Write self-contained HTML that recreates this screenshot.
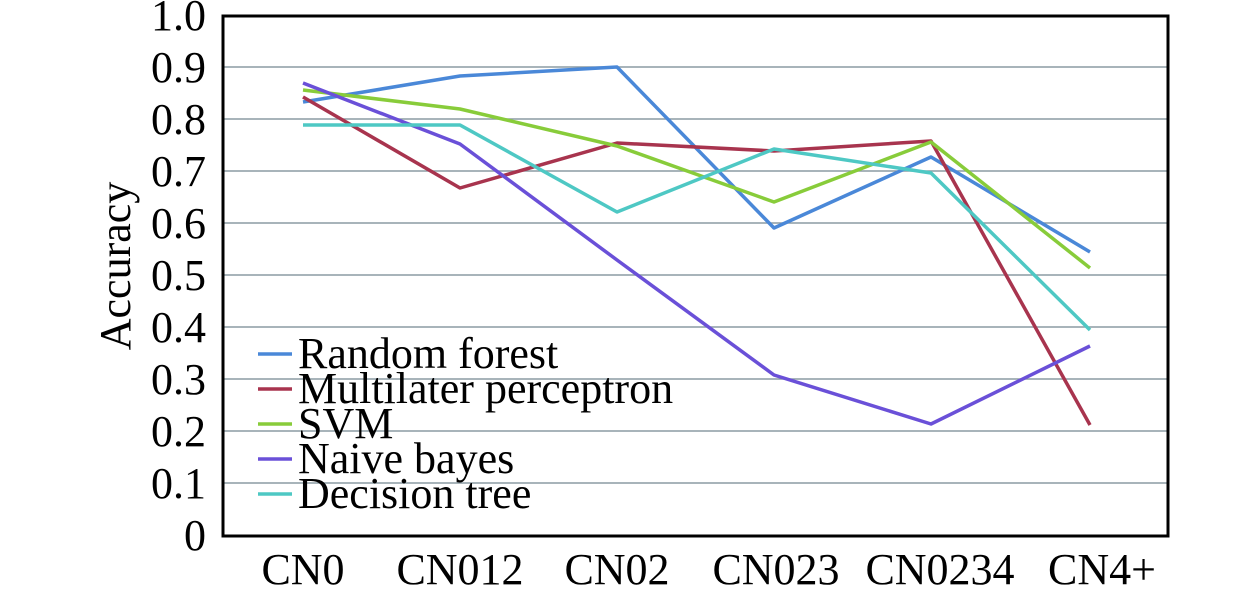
<!DOCTYPE html><html><head><style>body{margin:0;background:#fff}</style></head><body>
<svg width="1260" height="587" xmlns="http://www.w3.org/2000/svg" font-family="Liberation Serif, serif">
<rect width="1260" height="587" fill="#fff"/>
<g stroke="#8c9ca4" stroke-width="1.5">
<line x1="223" x2="1168" y1="67" y2="67"/><line x1="223" x2="1168" y1="119" y2="119"/><line x1="223" x2="1168" y1="171" y2="171"/><line x1="223" x2="1168" y1="223" y2="223"/><line x1="223" x2="1168" y1="275" y2="275"/><line x1="223" x2="1168" y1="327" y2="327"/><line x1="223" x2="1168" y1="379" y2="379"/><line x1="223" x2="1168" y1="431" y2="431"/><line x1="223" x2="1168" y1="483" y2="483"/>
</g>
<g fill="none" stroke-width="3.5" stroke-linejoin="round">
<polyline stroke="#4a88d8" points="303,102 460,76 617,67 774,228 931,157 1090,252"/>
<polyline stroke="#a8344e" points="303,97 460,188 617,143 774,151 931,141 1090,425"/>
<polyline stroke="#88cc3a" points="303,90 460,109 617,146 774,202 931,142 1090,268"/>
<polyline stroke="#6a50d8" points="303,83 460,144 617,260 774,375 931,424 1090,346"/>
<polyline stroke="#4ec8c4" points="303,125 460,125 617,212 774,149 931,173 1090,330"/>
</g>
<rect x="223" y="16" width="945" height="520" fill="none" stroke="#000" stroke-width="3"/>
<g font-size="44" text-anchor="end">
<text x="206" y="30">1.0</text><text x="206" y="82">0.9</text><text x="206" y="134">0.8</text><text x="206" y="186">0.7</text><text x="206" y="238">0.6</text><text x="206" y="290">0.5</text><text x="206" y="342">0.4</text><text x="206" y="394">0.3</text><text x="206" y="446">0.2</text><text x="206" y="498">0.1</text><text x="206" y="550">0</text>
</g>
<g font-size="44" text-anchor="middle">
<text x="303" y="584">CN0</text><text x="460" y="584">CN012</text><text x="617" y="584">CN02</text><text x="776" y="584">CN023</text><text x="940" y="584">CN0234</text><text x="1102" y="584">CN4+</text>
</g>
<text transform="translate(130,266) rotate(-90)" font-size="44" text-anchor="middle">Accuracy</text>
<g stroke-width="3.5">
<line x1="258" x2="292" y1="354" y2="354" stroke="#4a88d8"/>
<line x1="258" x2="292" y1="389" y2="389" stroke="#a8344e"/>
<line x1="258" x2="292" y1="424" y2="424" stroke="#88cc3a"/>
<line x1="258" x2="292" y1="459" y2="459" stroke="#6a50d8"/>
<line x1="258" x2="292" y1="494" y2="494" stroke="#4ec8c4"/>
</g>
<g font-size="44">
<text x="298" y="368">Random forest</text><text x="298" y="403">Multilater perceptron</text><text x="298" y="438">SVM</text><text x="298" y="473">Naive bayes</text><text x="298" y="508">Decision tree</text>
</g>
</svg>
</body></html>
